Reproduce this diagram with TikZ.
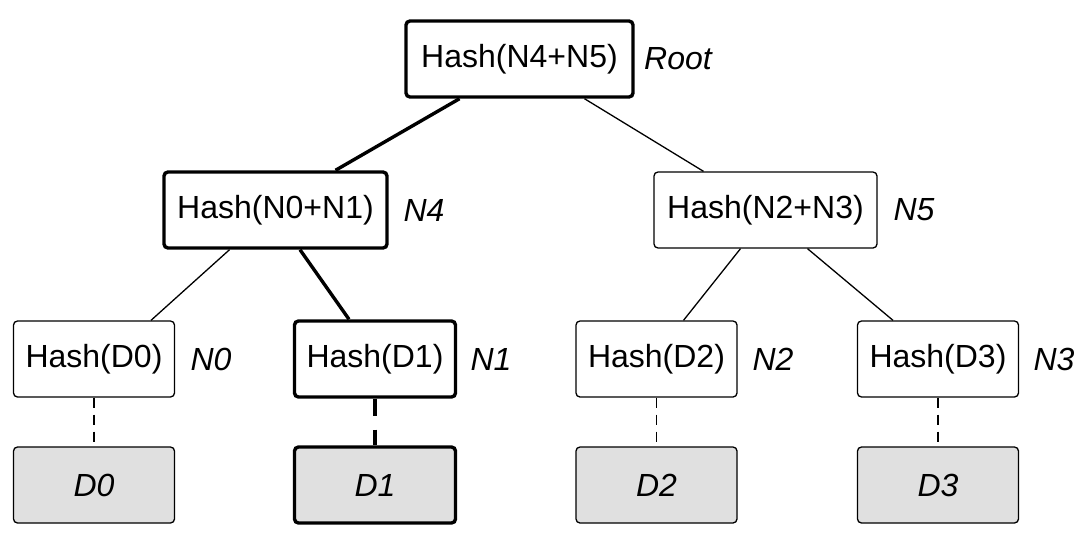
\documentclass[tikz,border=0pt]{standalone}
\usepackage{fontspec}
\setmainfont{Liberation Sans}
\usetikzlibrary{calc}
\definecolor{datagray}{HTML}{E0E0E0}
\begin{document}
\begin{tikzpicture}[x=1pt,y=-1pt,
  hashbox/.style={draw, rounded corners=4pt, line width=1.3pt, minimum width=#1, minimum height=76pt, inner sep=0pt, font=\fontsize{32}{36}\selectfont},
  hashbox/.default=160pt,
  heavy/.style={line width=3.4pt},
  databox/.style={hashbox=161pt, fill=datagray, font=\fontsize{32}{36}\selectfont\itshape},
  lbl/.style={font=\fontsize{32}{36}\selectfont\itshape, inner sep=0pt},
  thinedge/.style={line width=1.3pt},
  thickedge/.style={line width=3.4pt},
  dashedge/.style={line width=1.3pt, dash pattern=on 10pt off 7pt},
  thickdash/.style={line width=3.4pt, dash pattern=on 17pt off 14pt}
]
\useasboundingbox (0,0) rectangle (1090,536);

\node[hashbox=227pt, heavy] (root) at (519.5,59) {Hash(N4+N5)};
\node[lbl] (rootl) at (678,59) {Root};

\node[hashbox=223pt, heavy] (n4) at (275.5,210) {Hash(N0+N1)};
\node[lbl] (n4l) at (424,210) {N4};
\node[hashbox=223pt] (n5) at (765.5,210) {Hash(N2+N3)};
\node[lbl] (n5l) at (914,210) {N5};

\node[hashbox=161pt] (n0) at (94,359) {Hash(D0)};
\node[lbl] (n0l) at (211,359) {N0};
\node[hashbox=161pt, heavy] (n1) at (375,359) {Hash(D1)};
\node[lbl] (n1l) at (491,359) {N1};
\node[hashbox=161pt] (n2) at (656.5,359) {Hash(D2)};
\node[lbl] (n2l) at (773,359) {N2};
\node[hashbox=161pt] (n3) at (938,359) {Hash(D3)};
\node[lbl] (n3l) at (1054,359) {N3};

\node[databox] (d0) at (94,485) {D0};
\node[databox, heavy] (d1) at (375,485) {D1};
\node[databox] (d2) at (656.5,485) {D2};
\node[databox] (d3) at (938,485) {D3};

\draw[thickedge] ($(root.south)+(-60,0)$) -- ($(n4.north)+(60,0)$);
\draw[thinedge] ($(root.south)+(65,0)$) -- ($(n5.north)+(-62,0)$);
\draw[thinedge] ($(n4.south)+(-46,0)$) -- ($(n0.north)+(57,0)$);
\draw[thickedge] ($(n4.south)+(24.5,0)$) -- ($(n1.north)+(-26,0)$);
\draw[thinedge] ($(n5.south)+(-25,0)$) -- ($(n2.north)+(27,0)$);
\draw[thinedge] ($(n5.south)+(42,0)$) -- ($(n3.north)+(-45,0)$);

\draw[dashedge] (n0.south) -- (d0.north);
\draw[thickdash] (n1.south) -- (d1.north);
\draw[dashedge] (n2.south) -- (d2.north);
\draw[dashedge] (n3.south) -- (d3.north);
\end{tikzpicture}
\end{document}
